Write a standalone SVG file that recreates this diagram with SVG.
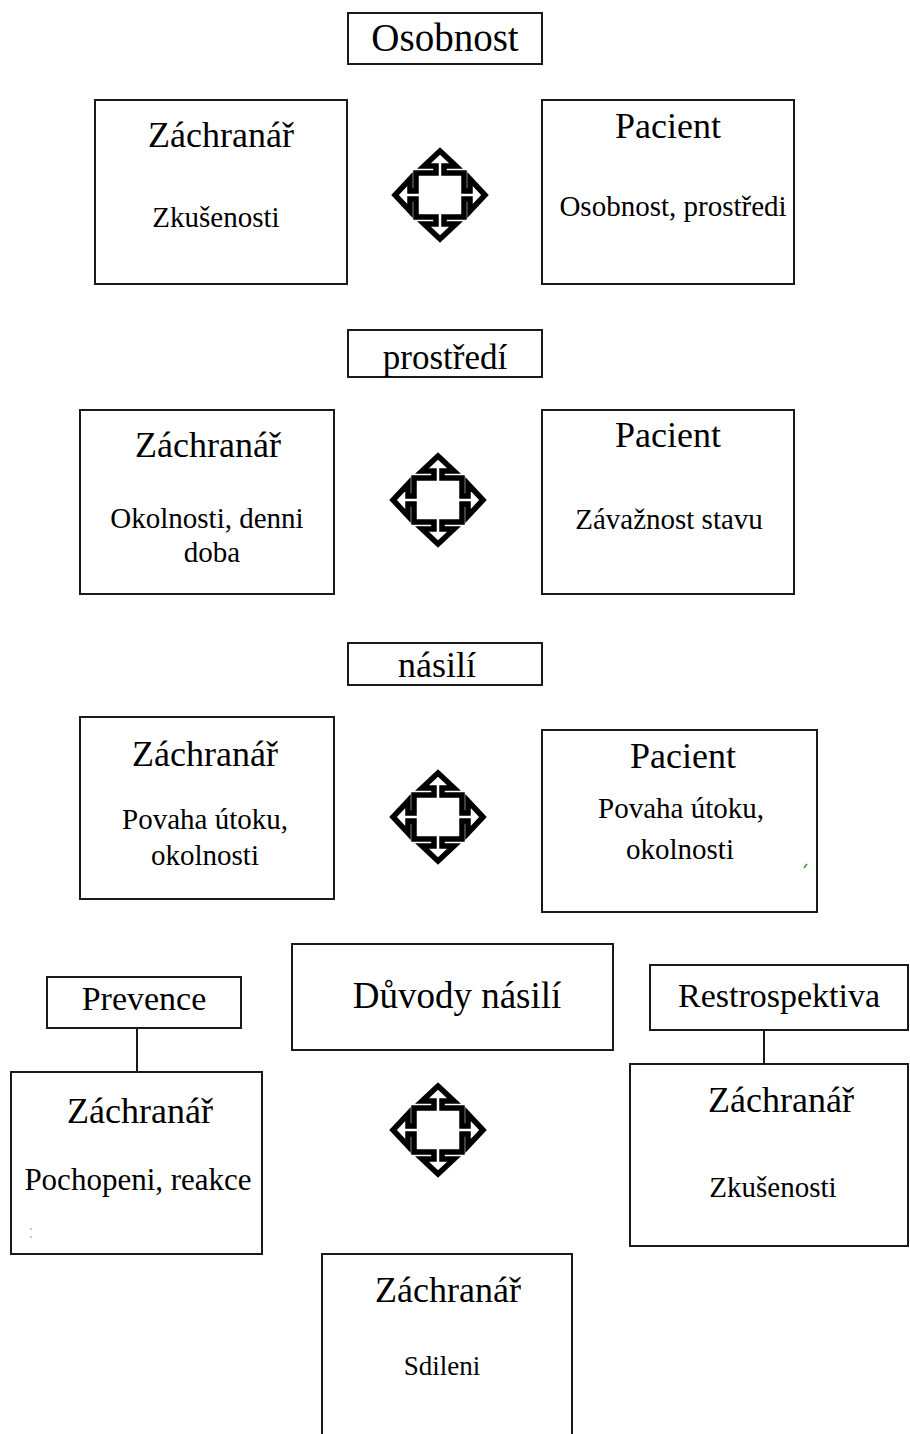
<svg xmlns="http://www.w3.org/2000/svg" width="910" height="1434" viewBox="0 0 910 1434">
<style>
.box{fill:#fff;stroke:#1a1a1a;stroke-width:2}
.t{font-family:"Liberation Serif","Times New Roman",serif;fill:#000;text-anchor:middle}
.h{font-size:36px}
.b{font-size:29px}
.lnk{stroke:#1a1a1a;stroke-width:2;fill:none}
.arr{fill:#fff;stroke:#000;stroke-width:5.5;stroke-linejoin:miter}
</style>
<defs>
<path id="quad" class="arr" d="M0,-44 L16,-29 L4,-29 L4,-22 L24,-22 L24,-4 L30,-4 L30,-16 L45,0 L30,16 L30,4 L24,4 L24,22 L4,22 L4,29 L16,29 L0,44 L-16,29 L-4,29 L-4,22 L-24,22 L-24,4 L-30,4 L-30,16 L-45,0 L-30,-16 L-30,-4 L-24,-4 L-24,-22 L-4,-22 L-4,-29 L-16,-29 Z"/>
</defs>
<rect width="910" height="1434" fill="#fff"/>

<g id="connectors">
<line class="lnk" x1="137" y1="1028" x2="137" y2="1072"/>
<line class="lnk" x1="764" y1="1030" x2="764" y2="1064"/>
</g>

<g id="osobnost"><rect class="box" x="348" y="13" width="194" height="51"/><text class="t" x="445" y="51" font-size="39">Osobnost</text></g>
<g id="zachranar1"><rect class="box" x="95" y="100" width="252" height="184"/><text class="t h" x="221" y="147">Záchranář</text><text class="t b" x="216" y="227">Zkušenosti</text></g>
<g id="arrow1"><use href="#quad" x="440" y="195"/></g>
<g id="pacient1"><rect class="box" x="542" y="100" width="252" height="184"/><text class="t h" x="668" y="138">Pacient</text><text class="t b" x="673" y="216">Osobnost, prostředi</text></g>

<g id="prostredi"><rect class="box" x="348" y="330" width="194" height="47"/><text class="t" x="445" y="369" font-size="35">prostředí</text></g>
<g id="zachranar2"><rect class="box" x="80" y="410" width="254" height="184"/><text class="t h" x="208" y="457">Záchranář</text><text class="t b" x="207" y="528">Okolnosti, denni</text><text class="t b" x="212" y="562">doba</text></g>
<g id="arrow2"><use href="#quad" x="438" y="500"/></g>
<g id="pacient2"><rect class="box" x="542" y="410" width="252" height="184"/><text class="t h" x="668" y="447">Pacient</text><text class="t b" x="669" y="529">Závažnost stavu</text></g>

<g id="nasili"><rect class="box" x="348" y="643" width="194" height="42"/><text class="t" x="437" y="677" font-size="36">násilí</text></g>
<g id="zachranar3"><rect class="box" x="80" y="717" width="254" height="182"/><text class="t h" x="205" y="766">Záchranář</text><text class="t b" x="205" y="829">Povaha útoku,</text><text class="t b" x="205" y="865">okolnosti</text></g>
<g id="arrow3"><use href="#quad" x="438" y="817"/></g>
<g id="pacient3"><rect class="box" x="542" y="730" width="275" height="182"/><text class="t h" x="683" y="768">Pacient</text><text class="t b" x="681" y="818">Povaha útoku,</text><text class="t b" x="680" y="859">okolnosti</text><line x1="804" y1="868" x2="807" y2="864" stroke="#3a9a3a" stroke-width="1.5"/></g>

<g id="duvody"><rect class="box" x="292" y="944" width="321" height="106"/><text class="t" x="457" y="1008" font-size="37">Důvody násilí</text></g>
<g id="prevence"><rect class="box" x="47" y="977" width="194" height="51"/><text class="t" x="144" y="1010" font-size="34">Prevence</text></g>
<g id="restrospektiva"><rect class="box" x="650" y="965" width="258" height="65"/><text class="t" x="779" y="1007" font-size="34">Restrospektiva</text></g>

<g id="zachranar4"><rect class="box" x="11" y="1072" width="251" height="182"/><text class="t h" x="140" y="1123">Záchranář</text><text class="t" x="138" y="1190" font-size="31">Pochopeni, reakce</text><circle cx="31" cy="1229" r="1" fill="#f5b070"/><circle cx="31" cy="1237" r="1" fill="#f5b070"/></g>
<g id="arrow4"><use href="#quad" x="438" y="1130"/></g>
<g id="zachranar5"><rect class="box" x="630" y="1064" width="278" height="182"/><text class="t h" x="781" y="1112">Záchranář</text><text class="t b" x="773" y="1197">Zkušenosti</text></g>

<g id="zachranar6"><rect class="box" x="322" y="1254" width="250" height="190"/><text class="t h" x="448" y="1302">Záchranář</text><text class="t" x="442" y="1375" font-size="27">Sdileni</text></g>
</svg>
